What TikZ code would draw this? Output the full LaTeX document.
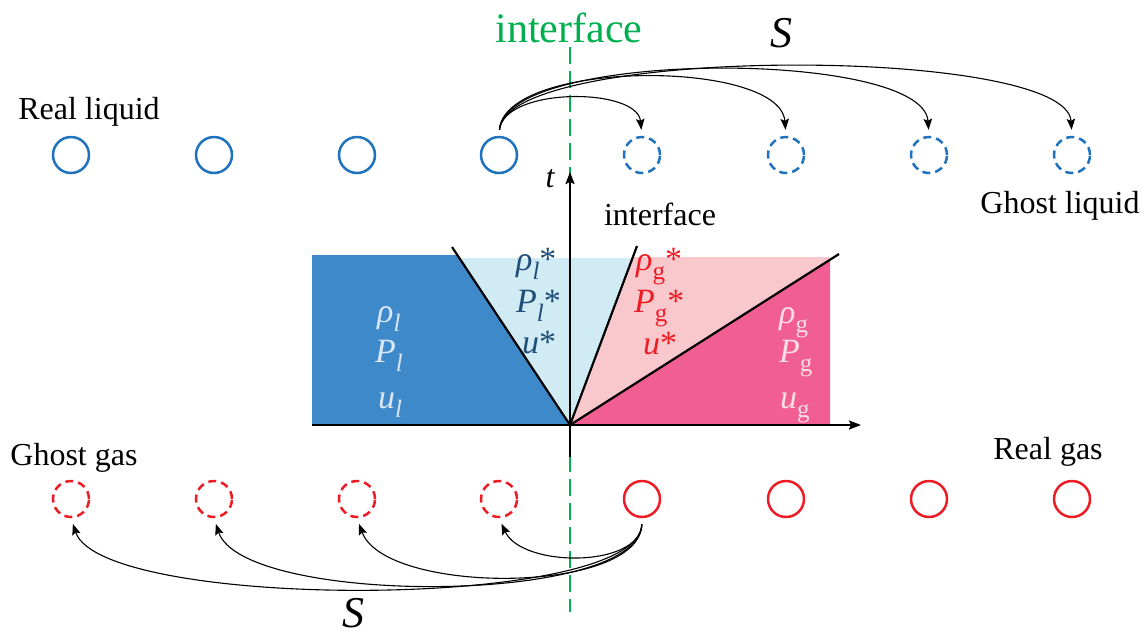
\documentclass[tikz,border=0pt]{standalone}
\usepackage{fontspec}
\setmainfont{Liberation Serif}
\usetikzlibrary{arrows.meta}
\definecolor{cblue}{RGB}{31,114,190}
\definecolor{cred}{RGB}{237,28,36}
\definecolor{cgreen}{RGB}{0,176,80}
\definecolor{fdblue}{RGB}{61,137,201}
\definecolor{flblue}{RGB}{208,235,243}
\definecolor{flpink}{RGB}{248,200,205}
\definecolor{fdpink}{RGB}{240,94,146}
\definecolor{tdblue}{RGB}{31,78,121}
\definecolor{tred}{RGB}{238,28,36}
\definecolor{tlblue}{RGB}{218,232,246}
\definecolor{tlpink}{RGB}{252,222,230}
\newcommand{\isub}[1]{\raisebox{-0.28em}{\fontsize{25}{25}\selectfont\itshape #1}}
\newcommand{\usub}[1]{\raisebox{-0.28em}{\fontsize{25}{25}\selectfont\upshape #1}}
\newcommand{\st}{\upshape*}
\begin{document}
\begin{tikzpicture}[x=1pt,y=-1pt,
  real/.style={circle, draw, line width=2.5pt, minimum size=36pt, inner sep=0pt},
  ghost/.style={real, dash pattern=on 8pt off 5pt},
  arr/.style={-{Stealth[length=11pt,width=8.5pt,inset=2pt]}, line width=1.1pt, shorten >=6pt, shorten <=6pt},
  big/.style={font=\fontsize{32}{36}\selectfont, inner sep=0pt, anchor=base},
  mlab/.style={font=\fontsize{34}{40}\selectfont\itshape, inner sep=0pt, anchor=base west},
  wave/.style={line width=2.2pt, black},
  axis/.style={line width=2.2pt, black, -{Stealth[length=12pt,width=9pt,inset=2pt]}}]
\useasboundingbox (0,0) rectangle (1147,633);

% green interface line
\coordinate (gtop) at (570,47);
\coordinate (gbot) at (570,612);
\draw[cgreen, line width=2.2pt, dash pattern=on 17pt off 7pt] (gtop) -- (gbot);
\node[font=\fontsize{42}{46}\selectfont, text=cgreen, inner sep=0pt, anchor=base] (gint) at (569,42) {interface};

% regions
\coordinate (O) at (570,425);
\fill[fdblue] (312,255) -- (458,255) -- (O) -- (312,425) -- cycle;
\fill[flblue] (459,258) -- (632,258) -- (O) -- cycle;
\fill[flpink] (632,257) -- (830,257) -- (830,260) -- (O) -- cycle;
\fill[fdpink] (O) -- (830,260) -- (830,425) -- cycle;

% waves
\coordinate (wl) at (452,247);
\coordinate (wm) at (637,246);
\coordinate (wr) at (839,254);
\draw[wave] (O) -- (wl);
\draw[wave] (O) -- (wm);
\draw[wave] (O) -- (wr);

% axes
\coordinate (xl) at (312,425);
\coordinate (xr) at (861,425);
\coordinate (tb) at (570,457);
\coordinate (tt) at (570,172);
\draw[axis] (xl) -- (xr);
\draw[axis] (tb) -- (tt);
\node[font=\fontsize{32}{36}\selectfont\itshape, inner sep=0pt, anchor=base] (tlab) at (550,187) {t};
\node[big] (iface) at (660,225) {interface};

% region labels
\node[mlab, text=tlblue] (a1) at (377,322) {ρ\isub{l}};
\node[mlab, text=tlblue] (a2) at (375,362) {P\isub{l}};
\node[mlab, text=tlblue] (a3) at (378,408) {u\isub{l}};
\node[mlab, text=tdblue] (b1) at (516,270) {ρ\isub{l}\st};
\node[mlab, text=tdblue] (b2) at (516,312) {P\isub{l}\st};
\node[mlab, text=tdblue] (b3) at (522,353) {u\st};
\node[mlab, text=tred] (c1) at (636,270) {ρ\usub{g}\st};
\node[mlab, text=tred] (c2) at (634,312) {P\usub{g}\st};
\node[mlab, text=tred] (c3) at (643,354) {u\st};
\node[mlab, text=tlpink] (d1) at (779,323) {ρ\usub{g}};
\node[mlab, text=tlpink] (d2) at (779,362) {P\usub{g}};
\node[mlab, text=tlpink] (d3) at (780,408) {u\usub{g}};

% circles
\foreach \i/\x in {1/71,2/214,3/357,4/499} {
  \node[real, draw=cblue] (L\i) at (\x,155) {};
  \node[ghost, draw=cred] (GG\i) at (\x,499) {};
}
\foreach \i/\x in {1/642,2/786,3/929,4/1072} {
  \node[ghost, draw=cblue] (GL\i) at (\x,155) {};
  \node[real, draw=cred] (RG\i) at (\x,499) {};
}

% text labels
\node[big] (rl) at (89,119) {Real liquid};
\node[big] (gl) at (1060,213) {Ghost liquid};
\node[big] (gg) at (74,465) {Ghost gas};
\node[big] (rg) at (1048,459) {Real gas};
\node[font=\fontsize{44}{48}\selectfont\itshape, inner sep=0pt, anchor=base] (S1) at (781,47) {S};
\node[font=\fontsize{44}{48}\selectfont\itshape, inner sep=0pt, anchor=base] (S2) at (353,627) {S};

% top arrows
\draw[arr] (L4.north) .. controls (504,87) and (637,87) .. (GL1.north);
\draw[arr] (L4.north) .. controls (505,59) and (780,59) .. (GL2.north);
\draw[arr] (L4.north) .. controls (505,49) and (923,49) .. (GL3.north);
\draw[arr] (L4.north) .. controls (505,45) and (1066,45) .. (GL4.north);

% bottom arrows
\draw[arr] (RG1.south) .. controls (640,568) and (522,568) .. (GG4.south);
\draw[arr] (RG1.south) .. controls (640,595) and (385,595) .. (GG3.south);
\draw[arr] (RG1.south) .. controls (640,606) and (243,606) .. (GG2.south);
\draw[arr] (RG1.south) .. controls (640,611) and (102,611) .. (GG1.south);
\end{tikzpicture}
\end{document}
